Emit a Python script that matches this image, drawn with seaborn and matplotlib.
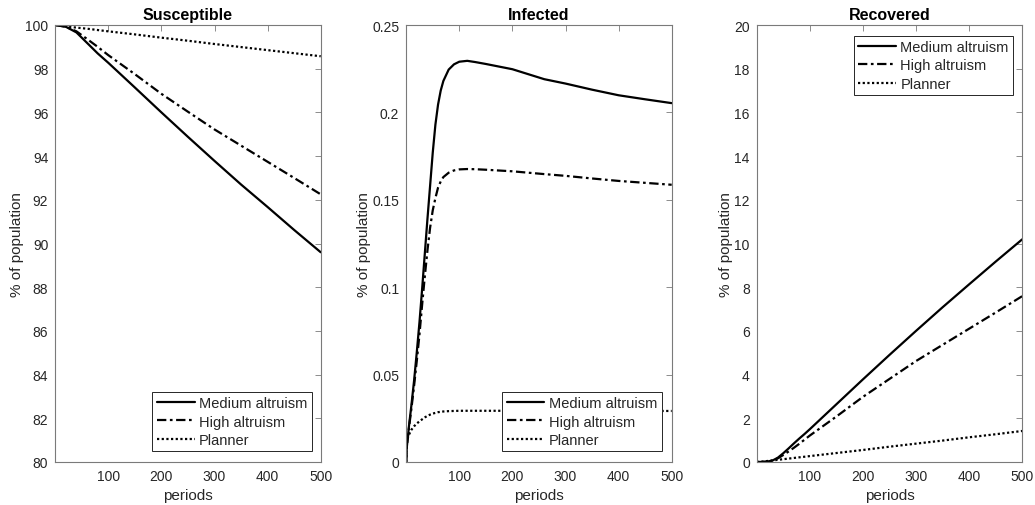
import numpy as np
import pandas as pd
import matplotlib
matplotlib.use("Agg")
import matplotlib.pyplot as plt
import seaborn as sns

# ---------------- data ----------------
scenarios = ["Medium altruism", "High altruism", "Planner"]
panel_titles = ["Susceptible", "Infected", "Recovered"]

t_S = [0, 20, 40, 60, 80, 100, 150, 200, 250, 300, 350, 400, 450, 500]
S_medium = [100, 99.92, 99.66, 99.18, 98.7, 98.27, 97.14, 96.0, 94.88, 93.78, 92.7, 91.67, 90.62, 89.6]
S_high = [100, 99.92, 99.71, 99.36, 99.0, 98.62, 97.75, 96.85, 96.03, 95.22, 94.48, 93.74, 93.0, 92.25]
S_planner = [100, 99.94, 99.88, 99.83, 99.77, 99.71, 99.57, 99.42, 99.28, 99.13, 98.99, 98.85, 98.71, 98.57]

t_I = [0, 1, 2, 5, 10, 15, 20, 25, 30, 35, 40, 45, 50, 55, 60, 65, 70, 80, 90, 100,
       115, 130, 150, 200, 260, 300, 350, 400, 450, 500]
I_medium = [0, 0.008, 0.011, 0.02, 0.033, 0.047, 0.063, 0.08, 0.099, 0.119, 0.139, 0.158,
            0.177, 0.193, 0.2045, 0.2125, 0.218, 0.2245, 0.2275, 0.229, 0.2295, 0.2288,
            0.2277, 0.2247, 0.219, 0.2165, 0.213, 0.2098, 0.2075, 0.2053]
I_high = [0, 0.008, 0.011, 0.019, 0.031, 0.044, 0.058, 0.073, 0.09, 0.106, 0.121, 0.134,
          0.144, 0.151, 0.157, 0.1605, 0.163, 0.1655, 0.1668, 0.1674, 0.1676, 0.1675,
          0.1672, 0.1663, 0.1647, 0.1637, 0.1622, 0.1608, 0.1597, 0.1586]
I_planner = [0, 0.011, 0.013, 0.0155, 0.0185, 0.0205, 0.022, 0.0233, 0.0244, 0.0255, 0.0264,
             0.0271, 0.0277, 0.0281, 0.0285, 0.0287, 0.0289, 0.0291, 0.0292, 0.0293, 0.0293,
             0.0293, 0.0293, 0.0293, 0.0293, 0.0293, 0.0293, 0.0293, 0.0292, 0.0292]

t_R = [0, 10, 20, 30, 40, 50, 60, 70, 80, 90, 100, 150, 200, 250, 300, 350, 400, 450, 500]
R_medium = [0, 0.0, 0.02, 0.07, 0.2, 0.4, 0.62, 0.85, 1.07, 1.28, 1.5, 2.64, 3.78, 4.9,
            6.0, 7.08, 8.13, 9.17, 10.19]
R_high = [0, 0.0, 0.02, 0.06, 0.17, 0.32, 0.48, 0.65, 0.83, 1.02, 1.21, 2.08, 2.98, 3.8,
          4.62, 5.36, 6.1, 6.84, 7.59]
R_planner = [0, 0.02, 0.045, 0.072, 0.1, 0.128, 0.156, 0.185, 0.213, 0.241, 0.27, 0.41,
             0.55, 0.7, 0.84, 0.98, 1.13, 1.27, 1.42]

x_ticks = [100, 200, 300, 400, 500]
S_ticks = [80, 82, 84, 86, 88, 90, 92, 94, 96, 98, 100]
I_ticks = [0, 0.05, 0.1, 0.15, 0.2, 0.25]
I_tick_labels = ["0", "0.05", "0.1", "0.15", "0.2", "0.25"]
R_ticks = [0, 2, 4, 6, 8, 10, 12, 14, 16, 18, 20]

# ---------------- style ----------------
sns.set_style("white")
plt.rcParams["font.family"] = ["Liberation Sans", "DejaVu Sans"]

styles = {
    "Medium altruism": "-",
    "High altruism": (0, (4.2, 1.6, 1.2, 1.6)),
    "Planner": (0, (1.0, 1.1)),
}
LW = 1.6
axis_col = "#7a7a7a"
text_col = "#262626"

fig = plt.figure(figsize=(10.35, 5.06), dpi=100)
W, H = 1035.0, 506.0
lefts = [55.2, 406.2, 756.7]
ax_w, ax_top, ax_bot = 265.5, 26.0, 463.0

panels = [
    (t_S, [S_medium, S_high, S_planner], (80, 100), S_ticks, None, "lower right", (0.966, 0.0245)),
    (t_I, [I_medium, I_high, I_planner], (0, 0.25), I_ticks, I_tick_labels, "lower right", (0.962, 0.0245)),
    (t_R, [R_medium, R_high, R_planner], (0, 20), R_ticks, None, "upper right", (0.966, 0.9755)),
]

for i, (t, series, ylim, yt, ytl, loc, anchor) in enumerate(panels):
    ax = fig.add_axes([lefts[i] / W, (H - ax_bot) / H, ax_w / W, (ax_bot - ax_top) / H])
    for name, vals in zip(scenarios, series):
        df = pd.DataFrame({"periods": t, "value": vals})
        sns.lineplot(data=df, x="periods", y="value", ax=ax, color="black",
                     linewidth=LW, linestyle=styles[name], label=name, legend=False)
    ax.set_xlim(0, 500)
    ax.set_ylim(*ylim)
    ax.set_xticks(x_ticks)
    ax.set_yticks(yt)
    if ytl is not None:
        ax.set_yticklabels(ytl)
    ax.tick_params(direction="in", length=4, width=0.6, top=True, right=True,
                   color=axis_col, labelcolor=text_col, labelsize=10, pad=5)
    for sp in ax.spines.values():
        sp.set_color(axis_col)
        sp.set_linewidth(0.8)
    ax.set_title(panel_titles[i], fontweight="bold", fontsize=11.5, pad=4, color="black")
    ax.set_xlabel("periods", fontsize=11, color=text_col, labelpad=4)
    ax.set_ylabel("% of population", fontsize=11, color=text_col, labelpad=1)
    leg = ax.legend(loc=loc, bbox_to_anchor=anchor, borderaxespad=0, fontsize=10.5,
                    frameon=True, fancybox=False, framealpha=1, edgecolor=text_col,
                    handlelength=2.6, handletextpad=0.3, labelspacing=0.3, borderpad=0.3)
    leg.get_frame().set_linewidth(0.7)

fig.savefig("out.png", dpi=100)
